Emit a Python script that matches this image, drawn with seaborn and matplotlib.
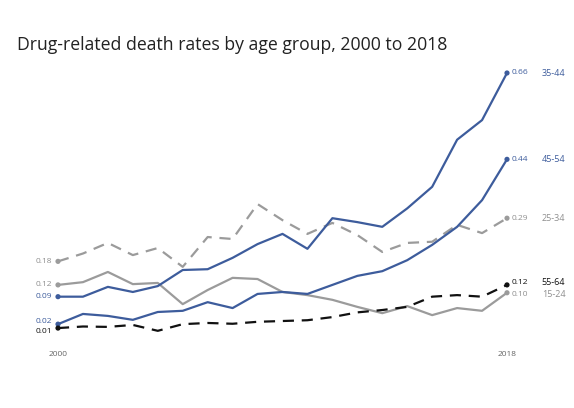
import pandas as pd
import numpy as np
import matplotlib
matplotlib.use("Agg")
import matplotlib.pyplot as plt
import seaborn as sns

years = list(range(2000, 2019))

# tasas por grupo de edad
age_15_24 = [0.12, 0.127, 0.153, 0.122, 0.125, 0.071, 0.107, 0.138, 0.135, 0.102,
             0.094, 0.082, 0.064, 0.048, 0.066, 0.043, 0.061, 0.054, 0.10]
age_25_34 = [0.18, 0.20, 0.227, 0.196, 0.214, 0.166, 0.242, 0.237, 0.326, 0.285,
             0.25, 0.278, 0.247, 0.204, 0.227, 0.23, 0.273, 0.252, 0.29]
age_35_44 = [0.09, 0.09, 0.115, 0.102, 0.117, 0.158, 0.16, 0.189, 0.224, 0.25,
             0.212, 0.29, 0.28, 0.268, 0.315, 0.37, 0.49, 0.54, 0.66]
age_45_54 = [0.02, 0.046, 0.041, 0.031, 0.051, 0.054, 0.076, 0.061, 0.097, 0.102,
             0.097, 0.12, 0.143, 0.155, 0.183, 0.222, 0.268, 0.336, 0.44]
age_55_64 = [0.01, 0.014, 0.013, 0.018, 0.003, 0.02, 0.023, 0.021, 0.026, 0.028,
             0.03, 0.038, 0.05, 0.056, 0.064, 0.09, 0.094, 0.09, 0.12]

groups = ["15-24", "25-34", "35-44", "45-54", "55-64"]
series = [age_15_24, age_25_34, age_35_44, age_45_54, age_55_64]

BLUE = "#3d5c9c"
GREY = "#9b9b9b"
BLACK = "#111111"
palette = {"15-24": GREY, "25-34": GREY, "35-44": BLUE, "45-54": BLUE, "55-64": BLACK}
dashes = {"15-24": "", "25-34": (5, 3.5), "35-44": "", "45-54": "", "55-64": (5, 3.5)}
label_colors = {"15-24": "#8f8f8f", "25-34": "#8f8f8f", "35-44": BLUE, "45-54": BLUE, "55-64": BLACK}
# pequeños desplazamientos verticales (pt) para que no se pisen las etiquetas
start_nudge = {"15-24": 0, "25-34": 0, "35-44": 0, "45-54": 2, "55-64": -2.5}
end_nudge = {"15-24": -1.5, "25-34": 0, "35-44": 0, "45-54": 0, "55-64": 1.5}

df = pd.DataFrame({
    "year": np.tile(years, len(groups)),
    "rate": np.concatenate(series),
    "group": np.repeat(groups, len(years)),
})

sns.set_style("white")
plt.rcParams["font.family"] = ["Open Sans", "DejaVu Sans"]

fig = plt.figure(figsize=(5.74, 4.08), dpi=100)
ax = fig.add_axes([58 / 574, 76 / 408, 449 / 574, 259 / 408])

sns.lineplot(data=df, x="year", y="rate", hue="group", style="group",
             palette=palette, dashes=dashes, linewidth=1.6, ax=ax, legend=False)

ends = df[df["year"].isin([years[0], years[-1]])]
sns.scatterplot(data=ends, x="year", y="rate", hue="group", palette=palette,
                s=14, linewidth=0, ax=ax, legend=False, clip_on=False, zorder=5)

# etiquetas de inicio y fin
for g, vals in zip(groups, series):
    c = label_colors[g]
    ax.annotate(f"{vals[0]:.2f}", (years[0], vals[0]), xytext=(-4, start_nudge[g]),
                textcoords="offset points", ha="right", va="center",
                fontsize=6, color=c)
    ax.annotate(f"{vals[-1]:.2f}", (years[-1], vals[-1]), xytext=(3, end_nudge[g]),
                textcoords="offset points", ha="left", va="center",
                fontsize=6, color=c)
    ax.annotate(g, (years[-1], vals[-1]), xytext=(25, end_nudge[g]),
                textcoords="offset points", ha="left", va="center",
                fontsize=6.5, color=c)

ax.set_xlim(2000, 2018)
ax.set_ylim(0, 0.66)
ax.set_xticks([2000, 2018])
ax.set_xticklabels(["2000", "2018"], fontsize=6, color="#666666")
ax.tick_params(axis="x", length=0, pad=14)
ax.set_yticks([])
ax.set_xlabel("")
ax.set_ylabel("")
sns.despine(ax=ax, left=True, bottom=True)

fig.text(17 / 574, 1 - 45 / 408, "Drug-related death rates by age group, 2000 to 2018",
         fontsize=12.7, color="#222222", va="center", ha="left")

fig.savefig("out.png", dpi=100, facecolor="white")
